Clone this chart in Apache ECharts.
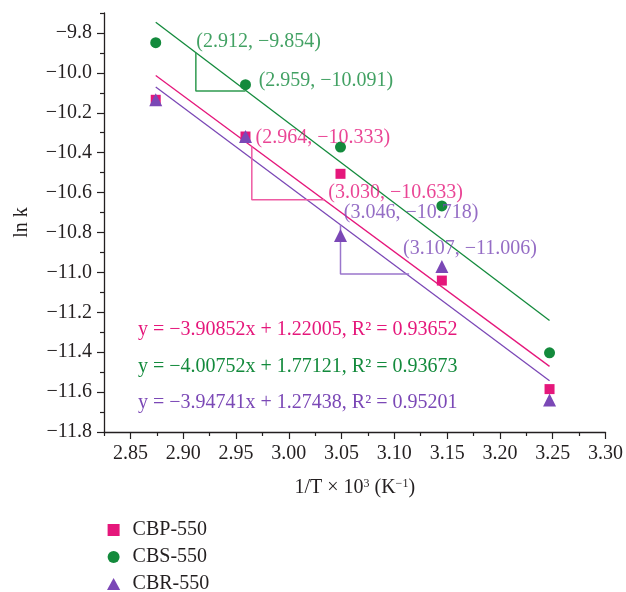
<!DOCTYPE html>
<html><head><meta charset="utf-8">
<script src="https://cdn.jsdelivr.net/npm/echarts@6/dist/echarts.min.js"></script>
<style>html,body{margin:0;padding:0;background:#fff}#c{width:626px;height:592px}</style>
</head><body><div id="c"></div>
<script>
// ---- data ----
const seriesNames = ['CBP-550', 'CBS-550', 'CBR-550'];
const invTemp = [2.874, 2.959, 3.049, 3.145, 3.247];
const cbpLnK = [-10.135, -10.319, -10.506, -11.041, -11.585];
const cbsLnK = [-9.849, -10.059, -10.372, -10.667, -11.403];
const cbrLnK = [-10.135, -10.319, -10.815, -10.971, -11.640];

const fitX = [2.874, 3.247];
const cbpFit = [-10.013, -11.471];
const cbsFit = [-9.746, -11.241];
const cbrFit = [-10.071, -11.543];

const cbsStepX = [2.912, 2.912, 2.959];
const cbsStepY = [-9.899, -10.091, -10.091];
const cbpStepX = [2.965, 2.965, 3.034];
const cbpStepY = [-10.369, -10.636, -10.636];
const cbrStepX = [3.049, 3.049, 3.114];
const cbrStepY = [-10.761, -11.008, -11.008];

const cbsNoteText = ['(2.912, −9.854)', '(2.959, −10.091)'];
const cbsNoteX = [2.912, 2.971];
const cbsNoteY = [-9.844, -10.039];
const cbpNoteText = ['(2.964, −10.333)', '(3.030, −10.633)'];
const cbpNoteX = [2.968, 3.037];
const cbpNoteY = [-10.323, -10.599];
const cbrNoteText = ['(3.046, −10.718)', '(3.107, −11.006)'];
const cbrNoteX = [3.0516, 3.1077];
const cbrNoteY = [-10.702, -10.882];

const eqTexts = [
  'y = −3.90852x + 1.22005, R² = 0.93652',
  'y = −4.00752x + 1.77121, R² = 0.93673',
  'y = −3.94741x + 1.27438, R² = 0.95201'
];

const xMajorTicks = [2.85, 2.90, 2.95, 3.00, 3.05, 3.10, 3.15, 3.20, 3.25, 3.30];
const xMinorTicks = [2.825, 2.875, 2.925, 2.975, 3.025, 3.075, 3.125, 3.175, 3.225, 3.275];
const yMajorTicks = [-11.8, -11.6, -11.4, -11.2, -11.0, -10.8, -10.6, -10.4, -10.2, -10.0, -9.8];
const yMinorTicks = [-11.7, -11.5, -11.3, -11.1, -10.9, -10.7, -10.5, -10.3, -10.1, -9.9, -9.7];

// ---- styles ----
const FONT = 'Liberation Serif';
const INK = '#231f20';
const PINK = '#e5177b', GREEN = '#138a3c', PURPLE = '#7b48b6';
const PINK_L = '#ee5aa2', GREEN_L = '#2f9a50', PURPLE_L = '#9a76cc';
const ICON_RECT = 'path://M0 0H10V10H0Z';
const ICON_TRI = 'path://M5.5 0L11 10H0Z';

const zip = (xs, ys) => xs.map((x, i) => [x, ys[i]]);
const minus = s => String(s).replace('-', '−');

const chart = echarts.init(document.getElementById('c'), null, {renderer: 'canvas'});

function scatter(name, ys, color, symbol, size) {
  return {name, type: 'scatter', data: zip(invTemp, ys), symbol, symbolSize: size,
    itemStyle: {color, opacity: 1}, z: 5};
}
function line(name, xs, ys, color, w) {
  return {name, type: 'line', data: zip(xs, ys), symbol: 'none', silent: true,
    lineStyle: {color, width: w}, itemStyle: {color}, z: 3};
}
function notes(name, xs, ys, texts, color) {
  return {name, type: 'scatter', silent: true, symbol: 'circle', symbolSize: 1,
    itemStyle: {color: 'rgba(0,0,0,0)'},
    data: xs.map((x, i) => ({value: [x, ys[i]], label: {formatter: texts[i]}})),
    label: {show: true, position: 'right', distance: 0, color, fontSize: 20, fontFamily: FONT},
    z: 6};
}

const axisCommonX = {type: 'value', min: 2.825, max: 3.30, gridIndex: 0, position: 'bottom',
  splitLine: {show: false}};
const axisCommonY = {type: 'value', min: -11.8, max: -9.7, gridIndex: 0, position: 'left',
  splitLine: {show: false}};

chart.setOption({
  animation: false,
  backgroundColor: '#fff',
  grid: {left: 104, right: 20, top: 13, bottom: 160, containLabel: false},
  xAxis: [
    Object.assign({}, axisCommonX, {
      name: '1/T × 10{sup|3} (K{sup|−1})', nameLocation: 'middle', nameGap: 46,
      nameTextStyle: {fontSize: 20, fontFamily: FONT, color: INK,
        rich: {sup: {fontSize: 12, fontFamily: FONT, color: INK, verticalAlign: 'top'}}},
      axisLine: {show: true, onZero: false, lineStyle: {color: INK, width: 1.3}},
      axisTick: {show: true, length: 7, customValues: xMajorTicks, lineStyle: {color: INK, width: 1.2}},
      axisLabel: {show: true, customValues: xMajorTicks, margin: 12, fontSize: 20, fontFamily: FONT,
        color: INK, formatter: v => Number(v).toFixed(2)}
    }),
    Object.assign({}, axisCommonX, {
      axisLine: {show: false, onZero: false},
      axisTick: {show: true, length: 4, customValues: xMinorTicks, lineStyle: {color: INK, width: 1.2}},
      axisLabel: {show: false}
    })
  ],
  yAxis: [
    Object.assign({}, axisCommonY, {
      name: 'ln k', nameLocation: 'middle', nameGap: 72,
      nameTextStyle: {fontSize: 20, fontFamily: FONT, color: INK},
      axisLine: {show: true, onZero: false, lineStyle: {color: INK, width: 1.3}},
      axisTick: {show: true, length: 7, customValues: yMajorTicks, lineStyle: {color: INK, width: 1.2}},
      axisLabel: {show: true, customValues: yMajorTicks, margin: 12, fontSize: 20, fontFamily: FONT,
        color: INK, formatter: v => minus(Number(v).toFixed(1))}
    }),
    Object.assign({}, axisCommonY, {
      axisLine: {show: false, onZero: false},
      axisTick: {show: true, length: 4, customValues: yMinorTicks, lineStyle: {color: INK, width: 1.2}},
      axisLabel: {show: false}
    })
  ],
  legend: {
    left: 107, top: 520, height: 80, orient: 'vertical', itemWidth: 28, itemHeight: 12, itemGap: 7,
    padding: 0, symbolKeepAspect: true,
    textStyle: {fontSize: 20, fontFamily: FONT, color: INK},
    data: [{name: seriesNames[0], icon: ICON_RECT}, {name: seriesNames[1], icon: 'circle'},
           {name: seriesNames[2], icon: ICON_TRI}]
  },
  graphic: eqTexts.map((t, i) => ({
    type: 'text', left: 138, top: [320, 357, 393][i], silent: true,
    style: {text: t, fill: [PINK, GREEN, PURPLE][i], fontSize: 20, fontFamily: FONT}
  })),
  series: [
    line('fitCBP', fitX, cbpFit, PINK, 1.3),
    line('fitCBS', fitX, cbsFit, GREEN, 1.3),
    line('fitCBR', fitX, cbrFit, PURPLE, 1.3),
    line('stepCBS', cbsStepX, cbsStepY, GREEN_L, 1.5),
    line('stepCBP', cbpStepX, cbpStepY, PINK_L, 1.5),
    line('stepCBR', cbrStepX, cbrStepY, PURPLE_L, 1.5),
    scatter(seriesNames[0], cbpLnK, PINK, 'rect', 10),
    scatter(seriesNames[1], cbsLnK, GREEN, 'circle', 11),
    scatter(seriesNames[2], cbrLnK, PURPLE, 'triangle', 13),
    notes('noteCBS', cbsNoteX, cbsNoteY, cbsNoteText, GREEN),
    notes('noteCBP', cbpNoteX, cbpNoteY, cbpNoteText, PINK),
    notes('noteCBR', cbrNoteX, cbrNoteY, cbrNoteText, PURPLE)
  ]
});
</script></body></html>
